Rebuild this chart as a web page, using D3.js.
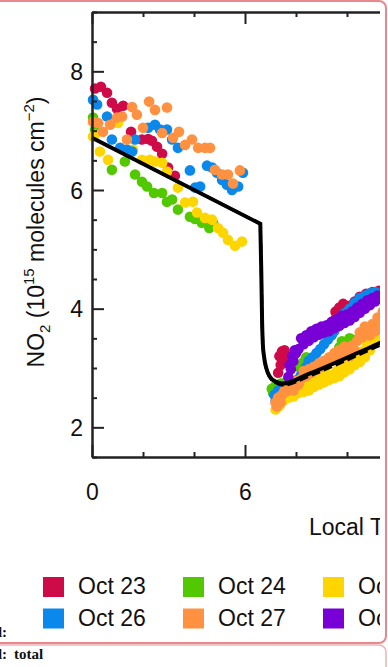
<!DOCTYPE html>
<html>
<head>
<meta charset="utf-8">
<script src="https://cdn.jsdelivr.net/npm/d3@7"></script>
<style>
  html, body { margin: 0; padding: 0; background: #fff; }
  #chart { width: 388px; height: 667px; overflow: hidden; }
  text { font-family: 'Liberation Sans', Arial, sans-serif; fill: #111; }
</style>
</head>
<body>
<div id="chart"></div>
<script>
// legend / series names
const days = ['Oct 23', 'Oct 24', 'Oct 25', 'Oct 26', 'Oct 27', 'Oct 28'];
const dayColors = ['#cf0a48', '#52c800', '#ffd500', '#0a88ec', '#ff9140', '#7800d6'];

// [local time (h), NO2 (1e15 molec cm-2)]
const oct23 = [
  [0.12, 7.71], [0.35, 7.74], [0.59, 7.64], [0.78, 7.47], [0.98, 7.37], [1.22, 7.42],
  [1.53, 6.98], [1.96, 6.85], [2.2, 6.86], [2.35, 6.83], [2.55, 6.73], [2.75, 6.61],
  [2.98, 6.38], [3.25, 6.24],
  [7.3, 2.92], [7.4, 3.05], [7.5, 3.15], [7.6, 3.18], [7.7, 3.14],
  [7.35, 3.2], [7.45, 3.28], [7.55, 3.3],
  [9.5, 3.8], [9.6, 3.88], [9.75, 3.93], [9.9, 3.98], [10.1, 4.05], [10.6, 4.18],
  [10.9, 4.22], [11.1, 4.24],
  [9.55, 3.95], [9.7, 4.02], [9.85, 4.08], [10.3, 4.12], [10.5, 4.2], [10.75, 4.25],
  [11.0, 4.28], [11.25, 4.3]
];
const oct24 = [
  [0.04, 7.22], [0.12, 7.02], [0.78, 6.34], [1.29, 6.48], [1.69, 6.26], [1.96, 6.14],
  [2.16, 6.06], [2.43, 5.95], [2.75, 5.95], [2.94, 5.8], [3.14, 5.84], [3.37, 5.67],
  [3.84, 5.55], [4.04, 5.51], [4.31, 5.45], [4.55, 5.45], [4.75, 5.45], [4.6, 5.36],
  [7.05, 2.65], [7.2, 2.7], [7.4, 2.74], [7.6, 2.76], [8.3, 3.1], [8.5, 3.15],
  [9.7, 3.35], [10.0, 3.42], [10.2, 3.48],
  [7.1, 2.58], [7.3, 2.66], [7.5, 2.72], [7.7, 2.8], [8.1, 3.02], [8.4, 3.18],
  [9.8, 3.45], [10.1, 3.5]
];
const oct25 = [
  [0.04, 6.9], [0.12, 6.93], [0.31, 6.65], [0.63, 6.51], [1.02, 7.13], [1.61, 6.68],
  [1.96, 6.51], [2.27, 6.51], [2.47, 6.48], [2.75, 6.46], [2.94, 6.31], [3.37, 6.04],
  [3.65, 5.79], [3.96, 5.8], [4.12, 5.62], [4.43, 5.53], [4.71, 5.5], [4.94, 5.36],
  [5.14, 5.28], [5.33, 5.16], [5.61, 5.06], [5.88, 5.13],
  [7.2, 2.3], [7.35, 2.36], [7.5, 2.45], [7.7, 2.5], [7.9, 2.52], [8.1, 2.58],
  [8.3, 2.6], [8.5, 2.62], [8.7, 2.68], [8.9, 2.72], [9.1, 2.76], [9.3, 2.8],
  [9.5, 2.83], [9.7, 2.86], [9.9, 2.93], [10.1, 2.98], [10.3, 3.05], [10.5, 3.1],
  [10.7, 3.18], [10.9, 3.3], [11.1, 3.45], [11.3, 3.55], [11.5, 3.6],
  [7.25, 2.42], [7.45, 2.52], [7.65, 2.58], [7.85, 2.64], [8.05, 2.68], [8.25, 2.72],
  [8.45, 2.74], [8.65, 2.78], [8.85, 2.82], [9.05, 2.86], [9.25, 2.9], [9.6, 2.95],
  [9.8, 3.0], [10.0, 3.08], [10.2, 3.14], [10.4, 3.2], [10.6, 3.28], [10.8, 3.4],
  [11.0, 3.5], [11.2, 3.62]
];
const oct26 = [
  [0.04, 7.52], [0.2, 7.44], [0.59, 7.24], [0.78, 6.85], [1.1, 6.71], [1.37, 6.68],
  [1.57, 6.65], [1.69, 6.85], [2.2, 7.05], [2.47, 7.1], [2.67, 7.02], [2.94, 7.02],
  [3.14, 6.85], [3.37, 6.71], [3.84, 6.33], [4.04, 6.04], [4.24, 6.06], [4.51, 6.41],
  [4.71, 6.38], [4.9, 6.29], [5.1, 6.17], [5.29, 6.09], [5.49, 6.0], [5.73, 6.06],
  [5.92, 6.29],
  [7.15, 2.55], [7.3, 2.62], [7.5, 2.66], [7.8, 2.7], [8.0, 2.78], [8.2, 2.88],
  [8.3, 2.94], [8.5, 3.12], [8.8, 3.25], [9.1, 3.4], [9.4, 3.55], [9.6, 3.7],
  [9.8, 3.8], [10.0, 3.88], [10.2, 3.98], [10.4, 4.06], [10.6, 4.15], [10.8, 4.18],
  [11.0, 4.2], [11.2, 4.24],
  [7.2, 2.45], [7.4, 2.55], [7.65, 2.62], [7.9, 2.75], [8.1, 2.82], [8.4, 3.02],
  [8.65, 3.18], [8.95, 3.32], [9.25, 3.48], [9.5, 3.62], [9.7, 3.76], [9.9, 3.92],
  [10.1, 4.0], [10.3, 4.1], [10.5, 4.18], [10.7, 4.22], [10.9, 4.26], [11.1, 4.28]
];
const oct27 = [
  [0.04, 7.15], [0.24, 7.13], [0.43, 6.98], [0.71, 7.1], [0.98, 7.22], [1.18, 7.24],
  [1.37, 6.85], [1.57, 7.4], [1.76, 7.27], [2.0, 7.05], [2.24, 7.49], [2.47, 7.35],
  [2.75, 6.96], [2.94, 7.39], [3.18, 6.88], [3.41, 6.98], [3.65, 6.76], [3.92, 6.85],
  [4.16, 6.71], [4.43, 6.71], [4.63, 6.71], [4.82, 6.34], [5.1, 6.26], [5.33, 6.26],
  [5.53, 6.11], [5.8, 6.33],
  [7.2, 2.42], [7.3, 2.5], [7.45, 2.55], [7.6, 2.6], [7.8, 2.68], [8.0, 2.78],
  [8.2, 2.82], [8.4, 2.86], [8.6, 2.92], [8.8, 2.97], [9.0, 3.02], [9.2, 3.07],
  [9.4, 3.12], [9.6, 3.17], [9.8, 3.22], [10.0, 3.3], [10.2, 3.38], [10.4, 3.46],
  [10.6, 3.52], [10.8, 3.62], [11.0, 3.74], [11.2, 3.85], [11.4, 3.95],
  [7.25, 2.35], [7.4, 2.42], [7.55, 2.62], [7.7, 2.66], [7.9, 2.62], [8.1, 2.72],
  [8.3, 2.95], [8.5, 2.98], [8.7, 3.02], [8.9, 3.08], [9.1, 3.12], [9.3, 3.18],
  [9.5, 3.25], [9.7, 3.3], [9.9, 3.36], [10.1, 3.2], [10.3, 3.3], [10.5, 3.6],
  [10.7, 3.7], [10.9, 3.55], [11.1, 3.62], [11.3, 3.75]
];
const oct28 = [
  [7.7, 2.85], [7.8, 2.98], [7.9, 3.12], [8.0, 3.25], [8.1, 3.32], [8.3, 3.4],
  [8.5, 3.46], [8.7, 3.52], [8.9, 3.56], [9.1, 3.6], [9.3, 3.62], [9.5, 3.67],
  [9.7, 3.71], [9.9, 3.76], [10.1, 3.8], [10.3, 3.86], [10.5, 3.93], [10.7, 4.0],
  [10.9, 4.06], [11.1, 4.12], [11.3, 4.17],
  [7.75, 3.05], [7.85, 3.2], [7.95, 3.3], [8.2, 3.5], [8.4, 3.55], [8.6, 3.62],
  [8.8, 3.66], [9.0, 3.7], [9.2, 3.72], [9.4, 3.78], [9.6, 3.82], [9.8, 3.88],
  [10.0, 3.9], [10.2, 3.95], [10.4, 4.02], [10.6, 4.08], [10.8, 4.14], [11.0, 4.18],
  [11.2, 4.22]
];
const series = [oct23, oct24, oct25, oct26, oct27, oct28];

// model curve: straight decline to 6.6 h, then a sharp drop and slow rise
const modelTime = [0, 6.6, 6.64, 6.67, 6.7, 6.75, 6.82, 6.95, 7.2, 7.5, 8.5, 9.5, 10.5, 11.5, 12];
const modelNO2 = [6.88, 5.43, 4.6, 3.8, 3.4, 3.18, 3.02, 2.87, 2.77, 2.74, 2.9, 3.08, 3.27, 3.46, 3.55];
const modelDashNO2 = [6.88, 5.43, 4.6, 3.8, 3.4, 3.18, 3.02, 2.86, 2.75, 2.71, 2.86, 3.04, 3.23, 3.42, 3.51];

const xMajor = [0, 6, 12, 18, 24];
const yMajor = [2, 4, 6, 8];

const W = 388, H = 667;
const CLIP_R = 380;
const svg = d3.select('#chart').append('svg')
  .attr('width', W)
  .attr('height', H);

svg.append('defs').append('clipPath')
  .attr('id', 'figclip')
  .append('rect')
  .attr('x', 0).attr('y', 2)
  .attr('width', CLIP_R).attr('height', 640);

const fig = svg.append('g').attr('clip-path', 'url(#figclip)');

/* Scale */
const xScale = d3.scaleLinear().domain([0, 24]).range([92, 704]);
const yScale = d3.scaleLinear().domain([1.5, 9]).range([457, 12]);

const xMinor = d3.range(0, 24.01, 2).filter(d => d % 6 !== 0);
const yMinor = d3.range(1.5, 9.01, 0.5).filter(d => d % 2 !== 0);

/* dots */
const dots = fig.append('g').attr('class', 'dots');
series.forEach((s, i) => {
  dots.append('g')
    .style('fill', dayColors[i])
    .selectAll('circle')
    .data(s).enter()
    .append('circle')
    .attr('cx', d => xScale(d[0]))
    .attr('cy', d => yScale(d[1]))
    .attr('r', 5.3);
});

/* model lines: linear part + curved part after the drop */
const split = 1;
function modelPath(vals) {
  const pts = vals.map((v, i) => [modelTime[i], v]);
  const straight = d3.line().x(d => xScale(d[0])).y(d => yScale(d[1]));
  const bent = d3.line().x(d => xScale(d[0])).y(d => yScale(d[1])).curve(d3.curveMonotoneX);
  return straight(pts.slice(0, split + 1)) + bent(pts.slice(split)).replace(/^M[^A-Za-z]*/, 'L' + xScale(pts[split][0]) + ',' + yScale(pts[split][1]));
}

fig.append('path')
  .attr('d', modelPath(modelDashNO2))
  .attr('fill', 'none')
  .attr('stroke', '#000')
  .attr('stroke-width', 3)
  .attr('stroke-dasharray', '9,4');

fig.append('path')
  .attr('d', modelPath(modelNO2))
  .attr('fill', 'none')
  .attr('stroke', '#000')
  .attr('stroke-width', 4)
  .attr('stroke-linejoin', 'miter');

/* Axis */
function styleAxis(g) {
  g.attr('font-size', null).attr('font-family', null);
  g.select('.domain').attr('stroke', '#222').attr('stroke-width', 2);
  g.selectAll('.tick line').attr('stroke', '#222').attr('stroke-width', 2);
  g.selectAll('.tick text').style('font-size', '23px').attr('fill', '#111');
}

fig.append('g')
  .attr('transform', 'translate(92,0)')
  .call(d3.axisLeft(yScale).tickValues(yMajor).tickFormat(d3.format('d'))
    .tickSizeInner(-12).tickSizeOuter(0).tickPadding(9))
  .call(styleAxis)
  .selectAll('.tick text').attr('dy', '0.36em');

fig.append('g')
  .attr('transform', 'translate(92,0)')
  .call(d3.axisLeft(yScale).tickValues(yMinor).tickFormat('')
    .tickSizeInner(-5).tickSizeOuter(0))
  .call(styleAxis);

// only label the hours that fall inside the visible crop
fig.append('g')
  .attr('transform', 'translate(0,457)')
  .call(d3.axisBottom(xScale).tickValues(xMajor)
    .tickFormat(d => xScale(d) < CLIP_R ? d3.format('d')(d) : '')
    .tickSizeInner(-12).tickSizeOuter(0).tickPadding(27))
  .call(styleAxis);

fig.append('g')
  .attr('transform', 'translate(0,457)')
  .call(d3.axisBottom(xScale).tickValues(xMinor).tickFormat('')
    .tickSizeInner(-5).tickSizeOuter(0))
  .call(styleAxis);

fig.append('g')
  .attr('transform', 'translate(0,12)')
  .call(d3.axisTop(xScale).tickValues(xMajor).tickFormat('')
    .tickSizeInner(-12).tickSizeOuter(0))
  .call(styleAxis);

fig.append('g')
  .attr('transform', 'translate(0,12)')
  .call(d3.axisTop(xScale).tickValues(xMinor).tickFormat('')
    .tickSizeInner(-5).tickSizeOuter(0))
  .call(styleAxis);

// axis titles
const yTitle = fig.append('text')
  .attr('transform', 'translate(44,232) rotate(-90)')
  .attr('text-anchor', 'middle')
  .style('font-size', '23px');
yTitle.append('tspan').text('NO');
yTitle.append('tspan').attr('dy', 6).style('font-size', '15px').text('2');
yTitle.append('tspan').attr('dy', -6).text(' (10');
yTitle.append('tspan').attr('dy', -10).style('font-size', '15px').text('15');
yTitle.append('tspan').attr('dy', 10).text(' molecules cm');
yTitle.append('tspan').attr('dy', -10).style('font-size', '15px').text('\u22122');
yTitle.append('tspan').attr('dy', 10).text(')');

fig.append('text')
  .attr('x', 309).attr('y', 535)
  .style('font-size', '23px')
  .text('Local Time (h)');

/* legend */
const legend = fig.append('g').attr('class', 'legend')
  .selectAll('g')
  .data(days).enter()
  .append('g')
  .attr('transform', (d, i) => `translate(${43 + 140 * (i % 3)}, ${577 + 31.5 * Math.floor(i / 3)})`);

legend.append('rect')
  .attr('width', 21).attr('height', 20)
  .attr('fill', (d, i) => dayColors[i]);

legend.append('text')
  .attr('x', 35).attr('y', 17)
  .style('font-size', '23px')
  .text(d => d);

/* page frame around the figure */
svg.append('path')
  .attr('d', 'M-10,1 H379 A7,7 0 0 1 386,8 V636 A7,7 0 0 1 379,643 H-10')
  .attr('fill', 'none')
  .attr('stroke', '#e8888e')
  .attr('stroke-width', 2);

svg.append('path')
  .attr('d', 'M-10,645 H379 A7,7 0 0 1 386,652 V680')
  .attr('fill', 'none')
  .attr('stroke', '#eeb2b5')
  .attr('stroke-width', 1.5);

svg.append('text')
  .attr('x', 7).attr('y', 637)
  .attr('text-anchor', 'end')
  .style('font-family', "'Liberation Serif', serif")
  .style('font-weight', 'bold')
  .style('font-size', '15px')
  .text('d:');

const foot = svg.append('text')
  .attr('x', 7).attr('y', 659)
  .style('font-family', "'Liberation Serif', serif")
  .style('font-weight', 'bold')
  .style('font-size', '15px');
foot.append('tspan').attr('text-anchor', 'end').text('d:');
foot.append('tspan').attr('x', 14).text('total');
</script>
</body>
</html>
